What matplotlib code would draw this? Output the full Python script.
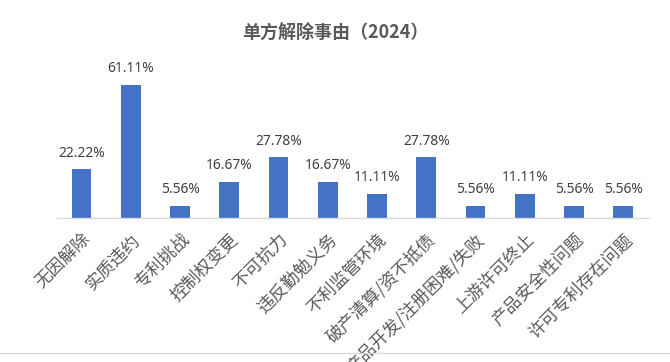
import matplotlib
matplotlib.use("Agg")
import matplotlib.pyplot as plt
from matplotlib.lines import Line2D

plt.rcParams["font.family"] = ["Noto Sans CJK SC", "DejaVu Sans"]

TITLE = "单方解除事由（2024）"
CATEGORIES = [
    "无因解除",
    "实质违约",
    "专利挑战",
    "控制权变更",
    "不可抗力",
    "违反勤勉义务",
    "不利监管环境",
    "破产清算/资不抵债",
    "产品开发/注册困难/失败",
    "上游许可终止",
    "产品安全性问题",
    "许可专利存在问题",
]
VALUES = [22.22, 61.11, 5.56, 16.67, 27.78, 16.67, 11.11, 27.78, 5.56, 11.11, 5.56, 5.56]

BAR_COLOR = "#4472C4"
TEXT_COLOR = "#595959"

fig = plt.figure(figsize=(6.7, 3.62), dpi=100)
ax = fig.add_axes([0.085, 0.398, 0.882, 0.422])

x = list(range(len(CATEGORIES)))
ax.bar(x, VALUES, width=0.4, color=BAR_COLOR, zorder=2)

for xi, v in zip(x, VALUES):
    ax.annotate(f"{v:.2f}%", (xi, v), xytext=(0, 6), textcoords="offset points",
                ha="center", va="bottom", fontsize=10, color="#404040",
                family=["Noto Sans", "DejaVu Sans"])

ax.set_xlim(-0.5, len(CATEGORIES) - 0.5)
ax.set_ylim(0, 70)
ax.set_yticks([])
ax.set_xticks(x)
ax.set_xticklabels(CATEGORIES, rotation=45, ha="right", rotation_mode="anchor",
                   fontsize=12.5, color=TEXT_COLOR)
ax.tick_params(axis="x", length=0, pad=9)

for side in ["top", "right", "left"]:
    ax.spines[side].set_visible(False)
ax.spines["bottom"].set_color("#d9d9d9")
ax.spines["bottom"].set_linewidth(1)

fig.text(0.5, 0.909, TITLE, ha="center", va="center", fontsize=13,
         fontweight="bold", color=TEXT_COLOR)

fig.add_artist(Line2D([0.0, 1.0], [0.025, 0.025], transform=fig.transFigure,
                      color="#d9d9d9", linewidth=1))

fig.savefig("out.png", dpi=100)
